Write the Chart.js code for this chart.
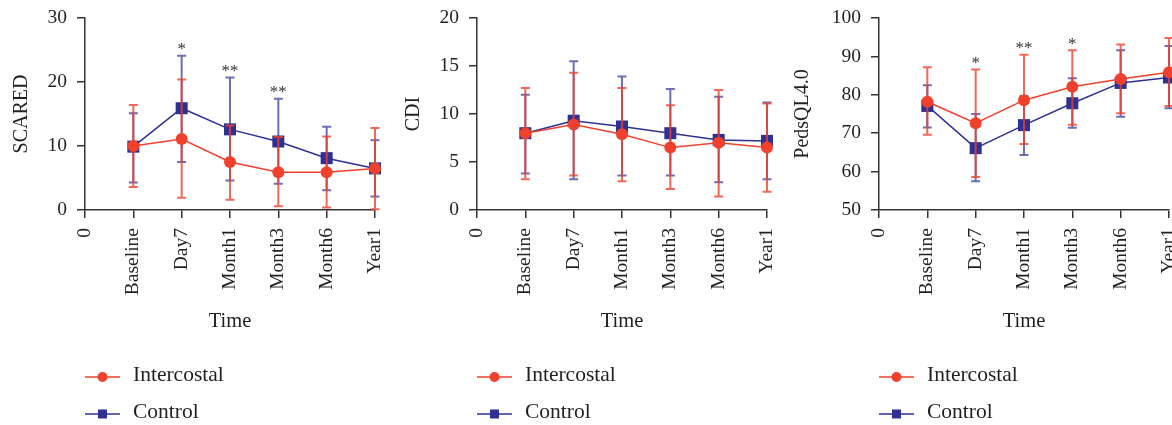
<!DOCTYPE html>
<html>
<head>
<meta charset="utf-8">
<script src="https://cdn.jsdelivr.net/npm/chart.js@4.4.1/dist/chart.umd.min.js"></script>
<style>
  html, body { margin: 0; padding: 0; background: #fff; overflow: hidden; }
  body { width: 1172px; height: 425px; position: relative; }
  canvas { position: absolute; top: 0; }
</style>
</head>
<body>
<canvas id="scared" width="392" height="425" style="left:0px"></canvas>
<canvas id="cdi" width="392" height="425" style="left:392px"></canvas>
<canvas id="peds" width="400" height="425" style="left:785px"></canvas>
<script>
// time points (first one is the "0" at the axis origin)
const timeLabels = ['0', 'Baseline', 'Day7', 'Month1', 'Month3', 'Month6', 'Year1'];

// SCARED
const scaredInter   = [null, 10.0, 11.1, 7.5, 5.9, 5.9, 6.5];
const scaredInterHi = [null, 16.4, 20.4, 13.2, 11.4, 11.5, 12.8];
const scaredInterLo = [null, 3.6, 1.9, 1.6, 0.6, 0.4, 0.1];
const scaredCtrl    = [null, 9.9, 15.9, 12.6, 10.7, 8.1, 6.5];
const scaredCtrlHi  = [null, 15.1, 24.1, 20.7, 17.4, 13.0, 10.9];
const scaredCtrlLo  = [null, 4.3, 7.5, 4.6, 4.1, 3.1, 2.1];
const scaredSig     = ['', '', '*', '**', '**', '', ''];

// CDI
const cdiInter   = [null, 8.0, 8.9, 7.9, 6.5, 7.0, 6.5];
const cdiInterHi = [null, 12.7, 14.3, 12.7, 10.9, 12.5, 11.1];
const cdiInterLo = [null, 3.2, 3.6, 3.0, 2.2, 1.4, 1.9];
const cdiCtrl    = [null, 8.0, 9.3, 8.7, 8.0, 7.3, 7.2];
const cdiCtrlHi  = [null, 12.0, 15.5, 13.9, 12.6, 11.8, 11.2];
const cdiCtrlLo  = [null, 3.8, 3.2, 3.6, 3.6, 2.9, 3.2];
const cdiSig     = ['', '', '', '', '', '', ''];

// PedsQL4.0
const pedsInter   = [null, 78.2, 72.6, 78.6, 82.1, 84.1, 85.9];
const pedsInterHi = [null, 87.2, 86.6, 90.4, 91.6, 93.1, 94.8];
const pedsInterLo = [null, 69.6, 58.6, 67.2, 72.2, 75.2, 77.1];
const pedsCtrl    = [null, 77.1, 66.1, 72.1, 77.8, 83.1, 84.5];
const pedsCtrlHi  = [null, 82.5, 75.0, 79.7, 84.3, 91.6, 92.7];
const pedsCtrlLo  = [null, 71.5, 57.5, 64.3, 71.4, 74.3, 76.5];
const pedsSig     = ['', '', '*', '**', '*', '', ''];

const RED = 'rgb(239,65,45)';
const BLUE = 'rgb(46,49,146)';
const RED_BAR = 'rgba(239,65,45,0.8)';
const BLUE_BAR = 'rgba(46,49,146,0.7)';
const AXIS = '#333';
const FONT = "'Liberation Serif', 'Times New Roman', serif";

// error bars, drawn right after each dataset so later datasets cover them
const errorBars = {
  id: 'errorBars',
  afterDatasetDraw(chart, args) {
    const ds = chart.data.datasets[args.index];
    const x = chart.scales.x, y = chart.scales.y;
    const ctx = chart.ctx;
    ctx.save();
    ctx.strokeStyle = ds.barColor;
    ctx.lineWidth = 2;
    ds.data.forEach((v, i) => {
      if (v == null) return;
      const px = x.getPixelForValue(i);
      const top = y.getPixelForValue(ds.errHi[i]);
      const bot = y.getPixelForValue(ds.errLo[i]);
      ctx.beginPath();
      ctx.moveTo(px, top); ctx.lineTo(px, bot);
      ctx.moveTo(px - 4.5, top); ctx.lineTo(px + 4.5, top);
      ctx.moveTo(px - 4.5, bot); ctx.lineTo(px + 4.5, bot);
      ctx.stroke();
    });
    ctx.restore();
  }
};

// significance marks above the highest bar
const sigStars = {
  id: 'sigStars',
  afterDraw(chart, args, opts) {
    const x = chart.scales.x, y = chart.scales.y;
    const ctx = chart.ctx;
    ctx.save();
    ctx.fillStyle = '#333';
    ctx.font = '17px ' + FONT;
    ctx.textAlign = 'center';
    ctx.textBaseline = 'alphabetic';
    opts.labels.forEach((s, i) => {
      if (!s) return;
      const hi = Math.max(...chart.data.datasets.map(d => d.errHi[i]));
      const py = y.getPixelForValue(hi) - 11;
      ctx.fillText(s, x.getPixelForValue(i), py + 9.5);
    });
    ctx.restore();
  }
};

// stacked legend under the axis
const stackLegend = {
  id: 'stackLegend',
  afterDraw(chart) {
    const ctx = chart.ctx;
    const left = chart.chartArea.left;
    const rows = [376, 413];
    ctx.save();
    chart.data.datasets.forEach((ds, k) => {
      const yy = rows[k];
      ctx.strokeStyle = ds.borderColor;
      ctx.lineWidth = 1.5;
      ctx.beginPath();
      ctx.moveTo(left, yy + 1); ctx.lineTo(left + 35, yy + 1);
      ctx.stroke();
      ctx.fillStyle = ds.borderColor;
      if (ds.pointStyle === 'circle') {
        ctx.beginPath();
        ctx.arc(left + 17.5, yy + 1, 5, 0, Math.PI * 2);
        ctx.fill();
      } else {
        ctx.fillRect(left + 13, yy - 3.5, 9, 9);
      }
      ctx.fillStyle = '#231f20';
      ctx.font = '21.5px ' + FONT;
      ctx.textAlign = 'left';
      ctx.textBaseline = 'middle';
      ctx.fillText(ds.label, left + 48, yy - 1);
    });
    ctx.restore();
  }
};

function makePanel(id, yTitle, yMin, yMax, yStep, yWidth, titlePad, rightPad, inter, interHi, interLo, ctrl, ctrlHi, ctrlLo, sig) {
  const ctx = document.getElementById(id).getContext('2d');
  return new Chart(ctx, {
    type: 'line',
    data: {
      labels: timeLabels,
      datasets: [{
        label: 'Intercostal',
        data: inter,
        errHi: interHi,
        errLo: interLo,
        barColor: RED_BAR,
        borderColor: RED,
        backgroundColor: RED,
        borderWidth: 1.5,
        pointStyle: 'circle',
        pointRadius: 6,
        pointBorderWidth: 0,
        spanGaps: true,
        clip: false
      }, {
        label: 'Control',
        data: ctrl,
        errHi: ctrlHi,
        errLo: ctrlLo,
        barColor: BLUE_BAR,
        borderColor: BLUE,
        backgroundColor: BLUE,
        borderWidth: 1.5,
        pointStyle: 'rect',
        pointRadius: 8.5,
        pointBorderWidth: 0,
        spanGaps: true,
        clip: false
      }]
    },
    options: {
      responsive: false,
      animation: false,
      events: [],
      layout: { padding: { top: 18, right: rightPad, bottom: 75, left: 0 } },
      plugins: {
        legend: { display: false },
        tooltip: { enabled: false },
        sigStars: { labels: sig }
      },
      scales: {
        x: {
          type: 'category',
          offset: false,
          grid: { display: true, drawOnChartArea: false, drawTicks: true, tickLength: 8, color: AXIS, lineWidth: 1.5 },
          border: { display: true, color: AXIS, width: 1.5 },
          ticks: { color: '#231f20', font: { family: FONT, size: 19.5 }, minRotation: 90, maxRotation: 90, padding: 10, autoSkip: false },
          title: { display: true, text: 'Time', color: '#231f20', font: { family: FONT, size: 20.5 }, padding: { top: 0, bottom: 16 } },
          afterFit(s) { s.height = 140; s.paddingLeft = 0; s.paddingRight = 0; }
        },
        y: {
          min: yMin,
          max: yMax,
          grid: { display: true, drawOnChartArea: false, drawTicks: true, tickLength: 8, color: AXIS, lineWidth: 1.5 },
          border: { display: true, color: AXIS, width: 1.5 },
          ticks: { stepSize: yStep, color: '#231f20', font: { family: FONT, size: 19.5 }, padding: 10 },
          title: { display: true, text: yTitle, color: '#231f20', font: { family: FONT, size: 20 }, padding: { top: titlePad, bottom: 0 } },
          afterFit(s) { s.width = yWidth; s.paddingTop = 0; s.paddingBottom = 0; }
        }
      }
    },
    plugins: [errorBars, sigStars, stackLegend]
  });
}

makePanel('scared', 'SCARED', 0, 30, 10, 85, 10, 17,
  scaredInter, scaredInterHi, scaredInterLo, scaredCtrl, scaredCtrlHi, scaredCtrlLo, scaredSig);
makePanel('cdi', 'CDI', 0, 20, 5, 85, 10, 17,
  cdiInter, cdiInterHi, cdiInterLo, cdiCtrl, cdiCtrlHi, cdiCtrlLo, cdiSig);
makePanel('peds', 'PedsQL4.0', 50, 100, 10, 94, 6, 16,
  pedsInter, pedsInterHi, pedsInterLo, pedsCtrl, pedsCtrlHi, pedsCtrlLo, pedsSig);
</script>
</body>
</html>
